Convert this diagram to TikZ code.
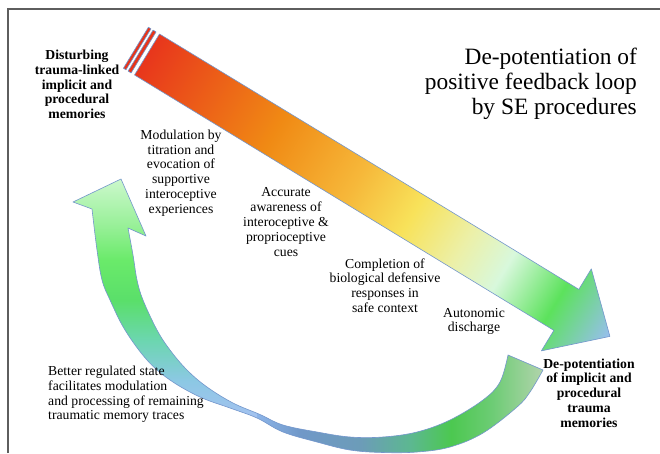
\documentclass[tikz,border=0pt]{standalone}
\usepackage{fontspec}
\setmainfont{Liberation Serif}
% main arrow colours
\definecolor{mA}{HTML}{E8361C}
\definecolor{mB}{HTML}{F08A14}
\definecolor{mC}{HTML}{F6B83A}
\definecolor{mD}{HTML}{F8E25A}
\definecolor{mE}{HTML}{ECF0A8}
\definecolor{mF}{HTML}{D8F8DC}
\definecolor{mG}{HTML}{5CE25C}
\definecolor{mH}{HTML}{98BEF0}
% curved arrow, left part
\definecolor{lA}{HTML}{A4C2F0}
\definecolor{lB}{HTML}{8CC8E4}
\definecolor{lC}{HTML}{6CD6B0}
\definecolor{lD}{HTML}{5ADF6A}
\definecolor{lE}{HTML}{6AEA6A}
\definecolor{lF}{HTML}{98F098}
\definecolor{lG}{HTML}{CCF8CC}
% curved arrow, right part
\definecolor{rA}{HTML}{8CB4E8}
\definecolor{rB}{HTML}{7098C8}
\definecolor{rC}{HTML}{6C9CB8}
\definecolor{rD}{HTML}{5CB890}
\definecolor{rE}{HTML}{4CC850}
\definecolor{rF}{HTML}{6CCC74}
\definecolor{rG}{HTML}{B4D4AE}
\definecolor{edge}{HTML}{7396CC}
\definecolor{frame}{HTML}{5E5E5E}
\definecolor{stripe}{HTML}{E8341A}
\pgfdeclarehorizontalshading{mainsh}{100bp}{color(0bp)=(mA); color(25bp)=(mA); color(38.8bp)=(mB); color(47.6bp)=(mC); color(53.6bp)=(mD); color(59.1bp)=(mE); color(63.5bp)=(mF); color(69.1bp)=(mG); color(75bp)=(mH); color(100bp)=(mH)}
\pgfdeclareverticalshading{cleftsh}{100bp}{color(0bp)=(lA); color(25bp)=(lA); color(32.8bp)=(lB); color(41.2bp)=(lC); color(49.6bp)=(lD); color(58bp)=(lE); color(65.3bp)=(lF); color(75bp)=(lG); color(100bp)=(lG)}
\pgfdeclarehorizontalshading{crightsh}{100bp}{color(0bp)=(rA); color(25bp)=(rA); color(32.5bp)=(rB); color(43bp)=(rC); color(51.7bp)=(rD); color(58.7bp)=(rE); color(65.7bp)=(rF); color(75bp)=(rG); color(100bp)=(rG)}
\newcommand{\myreturncurve}{(92,209) -- plot[smooth, tension=0.6] coordinates {(92,209) (97,250) (102,280) (110,300) (125,330) (147,360) (170,380) (200,397) (230,408) (257,418) (283,432) (317,442) (350,450) (383,452.5) (417,452) (450,447) (483,433) (517,407) (530,392) (543,370)}
  -- plot[smooth, tension=0.6] coordinates {(508,355) (500,382) (483,400) (450,420) (417,432) (383,437) (350,437) (317,432) (283,425) (260,414.5) (233,403) (207,387) (187,370) (170,350) (157,330) (143,300) (137,280) (133,255) (128,228)}
  -- (146,236) -- (121,179) -- (73,202) -- cycle}
\tikzset{
  lbl/.style={align=center, inner sep=0pt, text=black, font=\fontsize{13.7}{14.8}\selectfont},
  blbl/.style={lbl, font=\fontsize{13.7}{14.8}\selectfont\bfseries},
  ttl/.style={align=right, inner sep=0pt, text=black, font=\fontsize{23.4}{25}\selectfont},
  outline/.style={draw=edge, line width=0.6pt, line join=round}
}
\begin{document}
\begin{tikzpicture}[x=1pt, y=-1pt]
\useasboundingbox (0,0) rectangle (660,453);
\fill[white] (0,0) rectangle (660,453);
% frame (partly outside the view)
\draw[frame, line width=1.3pt] (8,453) -- (8,9) -- (660,9);

% main diagonal arrow
\begin{scope}[transform canvas={shift={(147,54.5)}, rotate=-31.34}]
  \filldraw[fill=stripe, outline] (-13,-24) rectangle (-10,24);
  \filldraw[fill=stripe, outline] (-7.5,-24) rectangle (-4,24);
  \path[shading=mainsh, outline] (0,-24) -- (491,-24) -- (491,-48) -- (542,0) -- (491,48) -- (491,24) -- (0,24) -- cycle;
\end{scope}

% curved return arrow
\begin{scope}
  \clip \myreturncurve;
  \shade[shading=cleftsh] (60,179) rectangle (257,418);
  \shade[shading=crightsh] (257,350) rectangle (545,455);
\end{scope}
\draw[outline] \myreturncurve;

% texts
\node[ttl, anchor=east] (title) at (637,83.5) {De-potentiation of\\positive feedback loop\\by SE procedures};
\node[blbl] (disturb) at (77,84.5) {Disturbing\\trauma-linked\\implicit and\\procedural\\memories};
\node[lbl] (modul) at (181,173) {Modulation by\\titration and\\evocation of\\supportive\\interoceptive\\experiences};
\node[lbl] (accur) at (286,222) {Accurate\\awareness of\\interoceptive \&\\proprioceptive\\cues};
\node[lbl] (compl) at (385,285.5) {Completion of\\biological defensive\\responses in\\safe context};
\node[lbl] (auton) at (474,321.5) {Autonomic\\discharge};
\node[blbl] (depot) at (589,393) {De-potentiation\\of implicit and\\procedural\\trauma\\memories};
\node[lbl, align=left, anchor=west] (better) at (48,394.5) {Better regulated state\\facilitates modulation\\and processing of remaining\\traumatic memory traces};
\end{tikzpicture}
\end{document}
